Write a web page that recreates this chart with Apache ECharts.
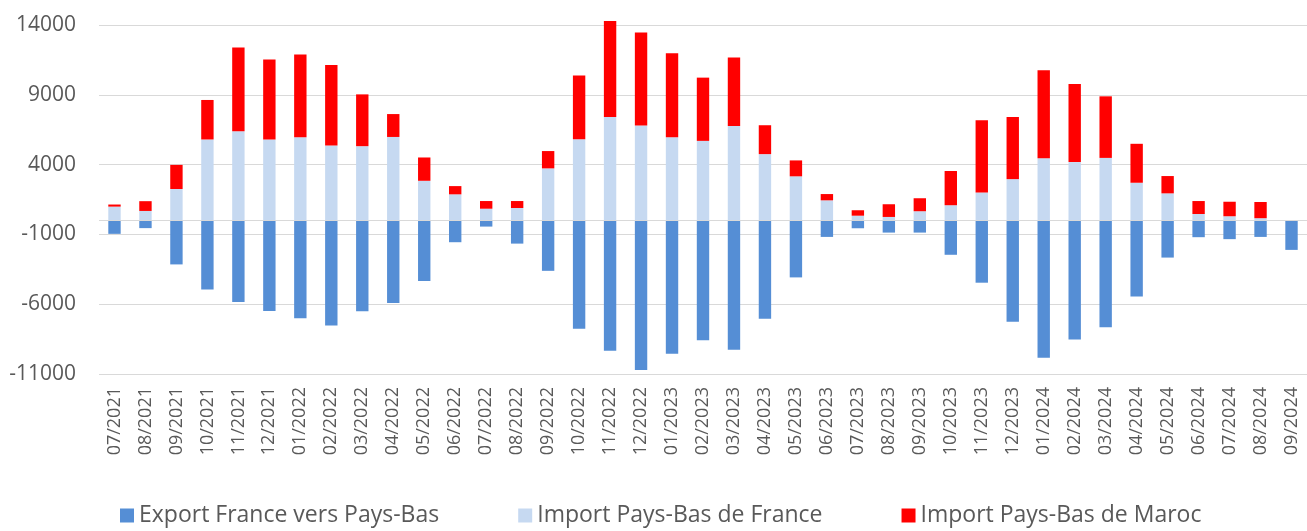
<!DOCTYPE html>
<html>
<head>
<meta charset="utf-8">
<script src="https://cdn.jsdelivr.net/npm/echarts@6/dist/echarts.min.js"></script>
<style>
  html, body { margin: 0; padding: 0; background: #fff; }
  #chart { width: 1307px; height: 531px; }
</style>
</head>
<body>
<div id="chart"></div>
<script>
const months = [
  '07/2021', '08/2021', '09/2021', '10/2021', '11/2021', '12/2021',
  '01/2022', '02/2022', '03/2022', '04/2022', '05/2022', '06/2022',
  '07/2022', '08/2022', '09/2022', '10/2022', '11/2022', '12/2022',
  '01/2023', '02/2023', '03/2023', '04/2023', '05/2023', '06/2023',
  '07/2023', '08/2023', '09/2023', '10/2023', '11/2023', '12/2023',
  '01/2024', '02/2024', '03/2024', '04/2024', '05/2024', '06/2024',
  '07/2024', '08/2024', '09/2024'
]

const exportFrance = [
  -960, -550, -3150, -4950, -5850, -6480,
  -7010, -7530, -6510, -5910, -4340, -1560,
  -440, -1660, -3610, -7750, -9340, -10720,
  -9550, -8580, -9270, -7050, -4080, -1180,
  -560, -870, -870, -2460, -4460, -7250,
  -9840, -8530, -7650, -5440, -2660, -1200,
  -1340, -1180, -2110
]

const importFrance = [
  990, 680, 2250, 5800, 6390, 5800,
  5960, 5370, 5320, 5980, 2840, 1870,
  840, 890, 3730, 5820, 7410, 6800,
  5960, 5700, 6770, 4750, 3160, 1440,
  340, 250, 660, 1090, 2010, 2960,
  4460, 4180, 4480, 2700, 1940, 460,
  300, 160, 0
]

const importMaroc = [
  150, 700, 1730, 2830, 6000, 5730,
  5930, 5760, 3710, 1640, 1670, 590,
  550, 500, 1240, 4570, 6880, 6660,
  6020, 4530, 4900, 2070, 1140, 450,
  390, 910, 930, 2450, 5160, 4450,
  6300, 5590, 4410, 2790, 1240, 930,
  1040, 1160, 0
]

const yTicks = { min: -11000, max: 14000, step: 5000 }

const chart = echarts.init(document.getElementById('chart'))

const textColor = '#595959'
const font = '"Open Sans", Lato, sans-serif'

chart.setOption({
  animation: false,
  backgroundColor: '#fff',
  grid: {
    left: 99,
    top: 25,
    width: 1210,
    height: 349
  },
  legend: {
    top: 499,
    left: 115,
    icon: 'rect',
    itemWidth: 14,
    itemHeight: 14,
    itemGap: 79,
    textStyle: { color: textColor, fontSize: 23, fontFamily: font },
    data: ['Export France vers Pays-Bas', 'Import Pays-Bas de France', 'Import Pays-Bas de Maroc']
  },
  xAxis: {
    type: 'category',
    data: months,
    axisLine: { show: false, onZero: false },
    axisTick: { show: false },
    axisLabel: {
      rotate: 90,
      margin: 13,
      color: textColor,
      fontSize: 18,
      fontFamily: font,
      interval: 0
    }
  },
  yAxis: {
    type: 'value',
    min: yTicks.min,
    max: yTicks.max,
    interval: yTicks.step,
    axisLine: { show: false },
    axisTick: { show: false },
    axisLabel: {
      margin: 23,
      color: textColor,
      fontSize: 21,
      fontFamily: font,
      formatter: v => String(v)
    },
    splitLine: { lineStyle: { color: '#d9d9d9', width: 1 } }
  },
  series: [
    {
      name: 'Export France vers Pays-Bas',
      type: 'bar',
      stack: 'total',
      barWidth: '40%',
      clip: false,
      itemStyle: { color: '#558ed5' },
      data: exportFrance,
      markLine: {
        silent: true,
        symbol: 'none',
        label: { show: false },
        lineStyle: { color: '#d9d9d9', width: 1, type: 'solid' },
        data: [{ yAxis: 0 }]
      }
    },
    {
      name: 'Import Pays-Bas de France',
      type: 'bar',
      stack: 'total',
      barWidth: '40%',
      clip: false,
      itemStyle: { color: '#c6d9f1' },
      data: importFrance
    },
    {
      name: 'Import Pays-Bas de Maroc',
      type: 'bar',
      stack: 'total',
      barWidth: '40%',
      clip: false,
      itemStyle: { color: '#ff0000' },
      data: importMaroc
    }
  ]
})
</script>
</body>
</html>
